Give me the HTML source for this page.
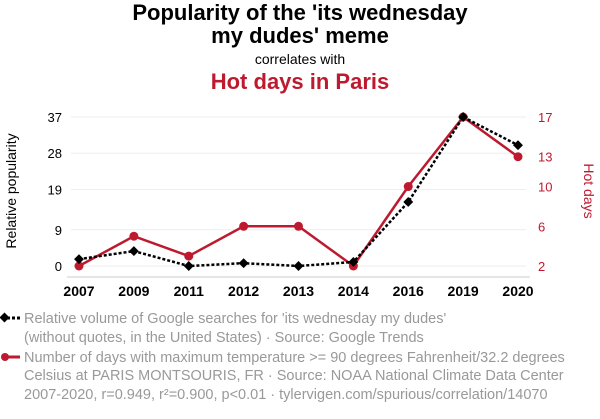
<!DOCTYPE html>
<html><head><meta charset="utf-8"><style>
body{margin:0;width:600px;height:414px;background:#fff;font-family:"Liberation Sans",sans-serif;overflow:hidden}
</style></head><body>
<svg width="600" height="414" font-family="Liberation Sans, sans-serif">
<text x="300" y="20" text-anchor="middle" font-size="22" font-weight="bold">Popularity of the 'its wednesday</text>
<text x="300" y="43" text-anchor="middle" font-size="22" font-weight="bold">my dudes' meme</text>
<text x="300" y="64" text-anchor="middle" font-size="14">correlates with</text>
<text x="300" y="89" text-anchor="middle" font-size="22" font-weight="bold" fill="#be1a2f">Hot days in Paris</text>
<g id="grid"></g>
<g id="axes"></g>
<g id="marks"></g>
<text transform="translate(16,191) rotate(-90)" text-anchor="middle" font-size="14">Relative popularity</text>
<text transform="translate(584,191) rotate(90)" text-anchor="middle" font-size="14" fill="#be1a2f">Hot days</text>
<g>
<line x1="2" y1="318" x2="20" y2="318" stroke="#000" stroke-width="3" stroke-dasharray="3,2"/>
<rect x="1" y="314" width="7" height="7" transform="rotate(45 4.5 317.5)" fill="#000"/>
<text x="24" y="323" font-size="14.5" fill="#999">Relative volume of Google searches for 'its wednesday my dudes'</text>
<text x="24" y="342" font-size="14.5" fill="#999">(without quotes, in the United States) · Source: Google Trends</text>
</g>
<g>
<line x1="2" y1="357" x2="20" y2="357" stroke="#be1a2f" stroke-width="3"/>
<circle cx="5" cy="357" r="4" fill="#be1a2f"/>
<text x="24" y="362" font-size="14.5" fill="#999">Number of days with maximum temperature &gt;= 90 degrees Fahrenheit/32.2 degrees</text>
<text x="24" y="380" font-size="14.5" fill="#999">Celsius at PARIS MONTSOURIS, FR · Source: NOAA National Climate Data Center</text>
</g>
<text x="24" y="399" font-size="14.5" fill="#999">2007-2020, r=0.949, r²=0.900, p&lt;0.01 · tylervigen.com/spurious/correlation/14070</text>
</svg>
<script>
const categories=["2007","2009","2011","2012","2013","2014","2016","2019","2020"];
const googleValues=[1.7,3.7,0,0.7,0,1,15.9,37,30];
const hotDays=[2,5,3,6,6,2,10,17,13];
const leftTicks=[0,9,19,28,37];
const rightTicks=[2,6,10,13,17];
const NS="http://www.w3.org/2000/svg";
const x0=79,x1=518,yTop=117,yBot=266;
const xs=i=>x0+i*(x1-x0)/(categories.length-1);
const yL=v=>yBot-(v-0)/(37-0)*(yBot-yTop);
const yR=v=>yBot-(v-2)/(17-2)*(yBot-yTop);
function mk(t,a,p){const e=document.createElementNS(NS,t);for(const k in a)e.setAttribute(k,a[k]);p.appendChild(e);return e;}
const grid=document.getElementById('grid'),axes=document.getElementById('axes'),marks=document.getElementById('marks');
leftTicks.forEach(v=>{
 const l=mk('line',{x1:x0-8,x2:x1+8,y1:yL(v),y2:yL(v),stroke:'#eee'},grid);
 
 
 const t=mk('text',{x:62,y:yL(v)+5,'text-anchor':'end','font-size':13},axes);t.textContent=v;
 
 
});
rightTicks.forEach(v=>{
 const t=mk('text',{x:538,y:yR(v)+5,'font-size':13,fill:'#be1a2f'},axes);t.textContent=v;
 
 
});
const ax=mk('line',{x1:x0-12,x2:x1+12,y1:277,y2:277,stroke:'#ccc'},axes);


categories.forEach((c,i)=>{
 const t=mk('text',{x:xs(i),y:296,'text-anchor':'middle','font-size':14,'font-weight':'bold'},axes);t.textContent=c;
 
 
});
const rl=mk('polyline',{points:hotDays.map((v,i)=>xs(i)+','+yR(v)).join(' '),fill:'none',stroke:'#be1a2f','stroke-width':2.5},marks);


const bl=mk('polyline',{points:googleValues.map((v,i)=>xs(i)+','+yL(v)).join(' '),fill:'none',stroke:'#000','stroke-width':2.5,'stroke-dasharray':'3,2'},marks);


hotDays.forEach((v,i)=>{
 const c=mk('circle',{cx:xs(i),cy:yR(v),r:4.5,fill:'#be1a2f'},marks);
 
 
});
googleValues.forEach((v,i)=>{
 const x=xs(i),y=yL(v);
 const r=mk('rect',{x:x-3.5,y:y-3.5,width:7,height:7,fill:'#000',transform:`rotate(45 ${x} ${y})`},marks);
 
 
});
</script>
</body></html>
